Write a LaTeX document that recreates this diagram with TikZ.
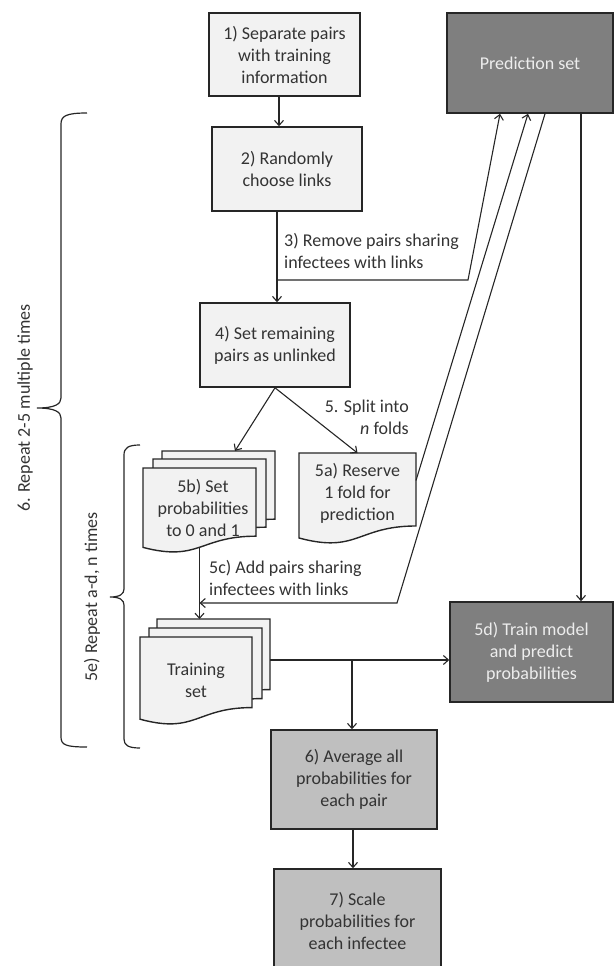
\documentclass[tikz,border=0pt]{standalone}
\usepackage{fontspec}
\setmainfont{Carlito}
\usetikzlibrary{arrows.meta,calc}
\definecolor{lightbox}{HTML}{F2F2F2}
\definecolor{darkbox}{HTML}{7F7F7F}
\definecolor{midbox}{HTML}{BFBFBF}
\definecolor{edge}{HTML}{262626}
\definecolor{darktext}{HTML}{EDEDED}
\definecolor{ink}{HTML}{333333}
\newcommand\docshape[4]{%
  \filldraw[doc] (#1,#2) -- ({#1+#3},#2) -- ({#1+#3},{#2+0.802*#4})
    .. controls ({#1+0.5*#3},{#2+0.802*#4}) and ({#1+0.5*#3},{#2+1.107*#4}) .. (#1,{#2+0.934*#4}) -- cycle;}
\begin{document}
\begin{tikzpicture}[x=1pt,y=-1pt,
  font=\fontsize{18}{22}\selectfont,
  box/.style={draw=edge, line width=1.6pt, inner sep=0pt, align=center, text=ink},
  lightbx/.style={box, fill=lightbox},
  darkbx/.style={box, fill=darkbox, text=darktext},
  midbx/.style={box, fill=midbox},
  conn/.style={draw=edge, line width=1.1pt},
  arr/.style={conn, -{Straight Barb[length=5pt,width=9pt]}},
  doc/.style={draw=edge, line width=1.4pt, fill=lightbox},
  docarea/.style={inner sep=0pt, outer sep=0pt},
  doctext/.style={inner sep=0pt, align=center, text=ink},
  lbl/.style={text=ink, inner sep=0pt},
  brace/.style={draw=edge, line width=1.2pt}]
\useasboundingbox (0,0) rectangle (614,966);
\clip (0,0) rectangle (614,966);

% boxes
\node[lightbx, minimum width=151pt, minimum height=83pt] (n1) at (284.5,54.5) {1) Separate pairs\\with training\\information};
\node[lightbx, minimum width=150pt, minimum height=84pt] (n2) at (287,169) {2) Randomly\\choose links};
\node[lightbx, minimum width=150pt, minimum height=84pt] (n4) at (275,345) {4) Set remaining\\pairs as unlinked};
\node[darkbx, minimum width=166pt, minimum height=100pt] (pred) at (530,63) {Prediction set};
\node[darkbx, minimum width=163pt, minimum height=100pt] (n5d) at (531.5,652) {5d) Train model\\and predict\\probabilities};
\node[midbx, minimum width=166pt, minimum height=99pt] (n6) at (354,779.5) {6) Average all\\probabilities for\\each pair};
\node[midbx, minimum width=167pt, minimum height=104pt] (n7) at (357.5,921) {7) Scale\\probabilities for\\each infectee};

% documents 5b (stack)
\docshape{162}{451}{113}{85}
\docshape{153}{459}{113}{85}
\docshape{143}{468}{113}{85}
\node[docarea, minimum width=113pt, minimum height=85pt] (s5bback) at (218.5,493.5) {};
\node[docarea, minimum width=113pt, minimum height=85pt] (s5bfront) at (199.5,510.5) {};
\node[doctext] (d5b) at (203,507.5) {5b) Set\\probabilities\\to 0 and 1};

% document 5a
\docshape{299}{453}{117}{91}
\node[docarea, minimum width=117pt, minimum height=91pt] (s5a) at (357.5,498.5) {};
\node[doctext] (d5a) at (357.5,493.5) {5a) Reserve\\1 fold for\\prediction};

% training set (stack)
\docshape{157}{619}{113}{88}
\docshape{149}{628}{113}{88}
\docshape{140}{637}{112}{88}
\node[docarea, minimum width=113pt, minimum height=88pt] (strback) at (213.5,663) {};
\node[doctext] (dtr) at (196,680.5) {Training\\set};

% labels
\node[lbl, anchor=north west, align=left] (l3) at (284,233) {3) Remove pairs sharing\\infectees with links};
\node[lbl, anchor=north east, align=right] (l5) at (409,400) {5. Split into\\\textit{n} folds};
\node[lbl, anchor=north west, align=left] (l5c) at (209,560) {5c) Add pairs sharing\\infectees with links};

% connectors
\draw[arr] ([xshift=-5.5pt]n1.south) -- ([xshift=-5.5pt]n1.south |- n2.north);
\coordinate (x24) at ([xshift=-10pt]n2.south);
\draw[arr] (x24) -- (x24 |- n4.north);
\coordinate (c3) at (468,280);
\draw[arr] (x24 |- c3) -- (c3) -- ([xshift=-30pt]pred.south);
\draw[arr] (n4.south) -- ([xshift=16.5pt]s5bback.north);
\draw[arr] (n4.south) -- (s5a.north);
\draw[arr] ([yshift=18pt]s5a.east) -- ([xshift=-2pt]pred.south);
\coordinate (c5c) at (397,603);
\draw[arr] ([xshift=15pt]pred.south) -- (c5c) -- (s5bfront.south |- c5c);
\draw[arr] ([yshift=6pt]s5bfront.south) -- (s5bfront.south |- strback.north);
\coordinate (trout) at ([yshift=3pt]strback.east);
\draw[arr] (trout) -- (trout -| n5d.west);
\draw[arr] ([xshift=-2pt]n6.north |- trout) -- ([xshift=-2pt]n6.north);
\draw[arr] ([xshift=51pt]pred.south) -- ([xshift=51pt]pred.south |- n5d.north);
\draw[arr] ([xshift=-1pt]n6.south) -- ([xshift=-1pt]n6.south |- n7.north);

% braces
\draw[brace] (87,113) .. controls (66,113) and (61,116) .. (61,124) -- (61,398)
  .. controls (61,404) and (55,408) .. (37,408) .. controls (55,408) and (61,412) .. (61,418)
  -- (61,737) .. controls (61,745) and (66,747) .. (87,747);
\draw[brace] (140,445) .. controls (128,445) and (124,448) .. (124,455) -- (124,589)
  .. controls (124,594) and (120,597) .. (110,597) .. controls (120,597) and (124,600) .. (124,605)
  -- (124,739) .. controls (124,745) and (128,748) .. (140,748);
\node[lbl, rotate=90] (t6) at (25,408) {6. Repeat 2-5 multiple times};
\node[lbl, rotate=90] (t5e) at (92,597) {5e) Repeat a-d, n times};
\end{tikzpicture}
\end{document}
